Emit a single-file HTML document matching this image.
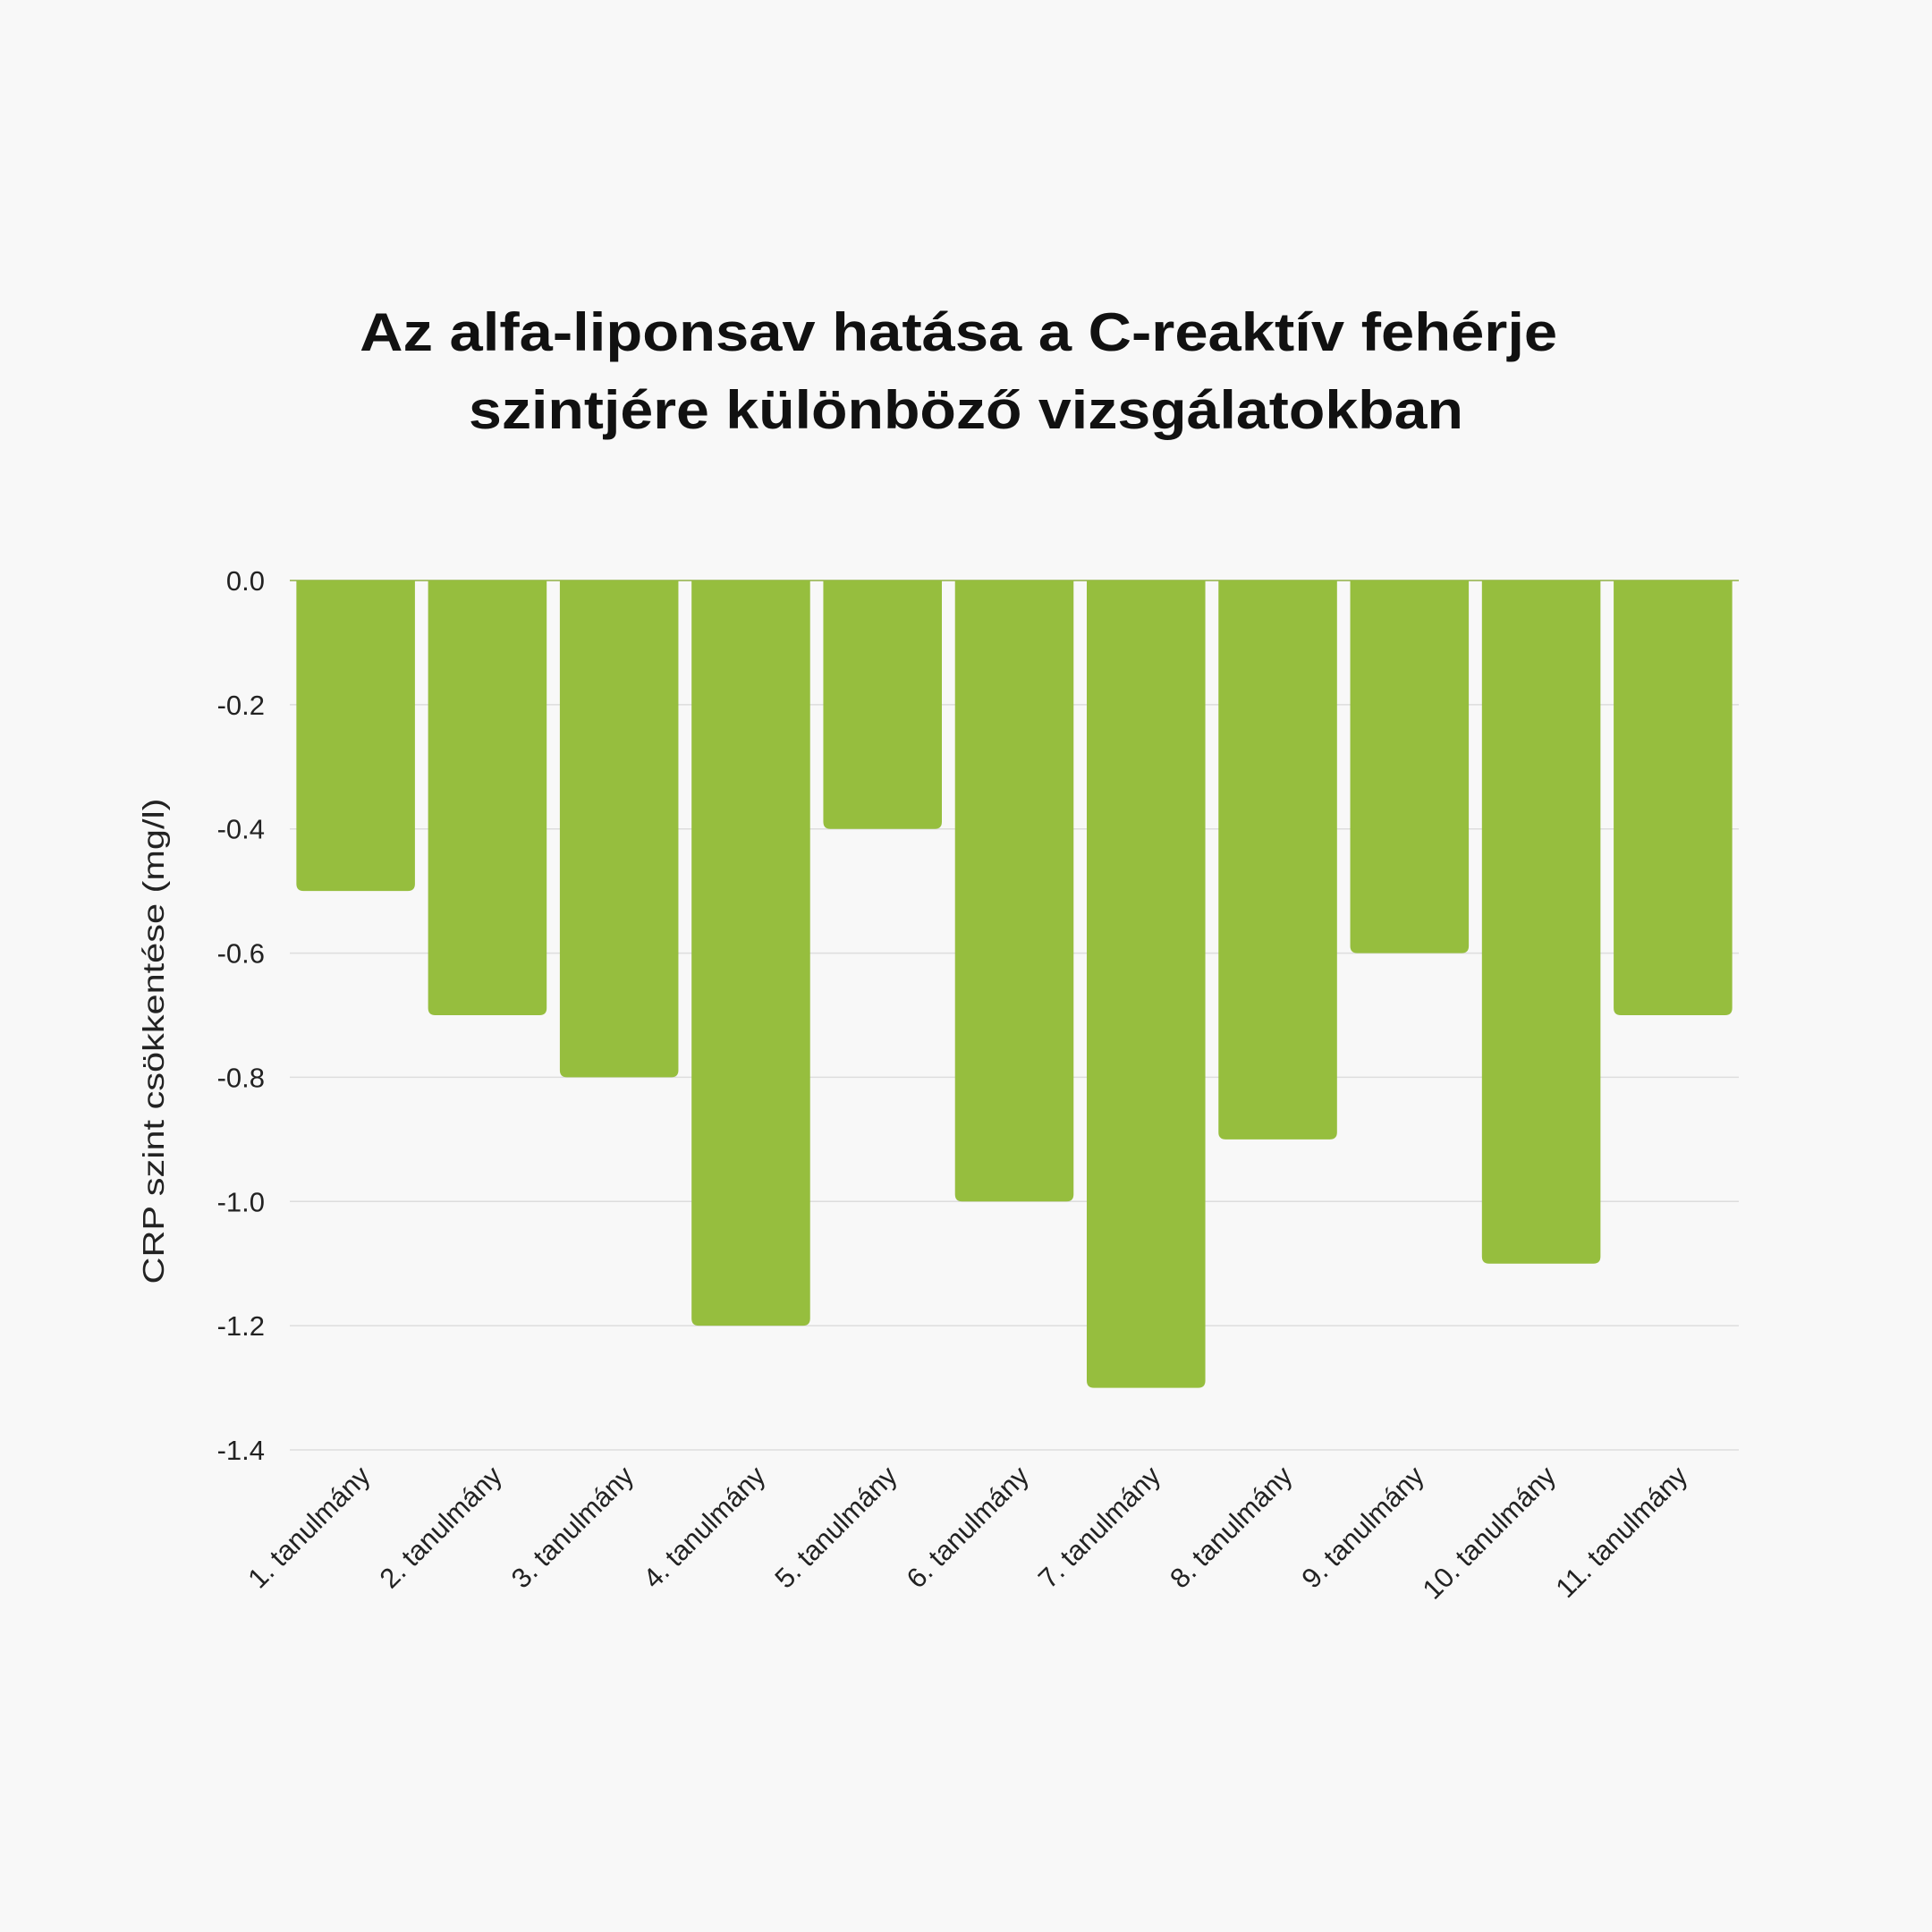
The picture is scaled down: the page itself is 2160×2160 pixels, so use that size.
<!DOCTYPE html>
<html><head><meta charset="utf-8">
<style>
html,body{margin:0;padding:0;background:#f8f8f8;}
svg{display:block;font-family:"Liberation Sans",sans-serif;}
</style></head>
<body>
<svg id="chart" width="2160" height="2160" viewBox="0 0 2160 2160" xmlns="http://www.w3.org/2000/svg">
<rect width="2160" height="2160" fill="#f8f8f8"/>
<text font-size="60" font-weight="bold" text-anchor="middle" fill="#111">
<tspan x="1080" y="392" textLength="1339" lengthAdjust="spacingAndGlyphs">Az alfa-liponsav hatása a C-reaktív fehérje</tspan>
<tspan x="1080" y="479" textLength="1112" lengthAdjust="spacingAndGlyphs">szintjére különböző vizsgálatokban</tspan>
</text>
<text transform="translate(183,1164) rotate(-90)" font-size="33" text-anchor="middle" fill="#222" textLength="543" lengthAdjust="spacingAndGlyphs">CRP szint csökkentése (mg/l)</text>
<g id="grid"></g>
<g id="bars"></g>
<g id="yticks"></g>
<g id="xticks"></g>
</svg>
<script>
const categories = ["1. tanulmány","2. tanulmány","3. tanulmány","4. tanulmány","5. tanulmány","6. tanulmány","7. tanulmány","8. tanulmány","9. tanulmány","10. tanulmány","11. tanulmány"];
const values = [-0.5,-0.7,-0.8,-1.2,-0.4,-1.0,-1.3,-0.9,-0.6,-1.1,-0.7];
const yTicks = [0,-0.2,-0.4,-0.6,-0.8,-1.0,-1.2,-1.4];

const NS="http://www.w3.org/2000/svg";
const plotLeft=324, plotRight=1944, plotTop=649, plotBottom=1621, yMin=-1.4, yMax=0;
const yScale = v => plotTop + (yMax - v)/(yMax - yMin)*(plotBottom-plotTop);
const band=(plotRight-plotLeft)/categories.length;
const xScale = i => plotLeft + i*band;
const bw = band*0.9;

const gridG=document.getElementById('grid'), barsG=document.getElementById('bars'),
      ytG=document.getElementById('yticks'), xtG=document.getElementById('xticks');

yTicks.forEach(t=>{
  const l=document.createElementNS(NS,'line');
  
  
  l.setAttribute('x1',plotLeft);l.setAttribute('x2',plotRight);
  l.setAttribute('y1',yScale(t));l.setAttribute('y2',yScale(t));
  l.setAttribute('stroke',t===0?'#8fb046':'#dddddd');l.setAttribute('stroke-width',1.5);
  gridG.appendChild(l);
  const tx=document.createElementNS(NS,'text');
  
  
  tx.setAttribute('x',296);tx.setAttribute('y',yScale(t)+11);
  tx.setAttribute('text-anchor','end');tx.setAttribute('font-size','31');tx.setAttribute('fill','#222');
  tx.textContent=t.toFixed(1);
  ytG.appendChild(tx);
});

values.forEach((v,i)=>{
  const x0=xScale(i)+(band-bw)/2, y0=yScale(0), y1=yScale(v), r=8;
  const p=document.createElementNS(NS,'path');
  
  
  p.setAttribute('d',`M${x0},${y0} H${x0+bw} V${y1-r} Q${x0+bw},${y1} ${x0+bw-r},${y1} H${x0+r} Q${x0},${y1} ${x0},${y1-r} Z`);
  p.setAttribute('fill','#96be3e');
  barsG.appendChild(p);
  const cx=xScale(i)+band/2+18, cy=1652;
  const tx=document.createElementNS(NS,'text');
  
  
  tx.setAttribute('transform',`translate(${cx},${cy}) rotate(-45)`);
  tx.setAttribute('text-anchor','end');tx.setAttribute('font-size','31');tx.setAttribute('fill','#222');
  tx.textContent=categories[i];
  xtG.appendChild(tx);
});
</script>
</body></html>
